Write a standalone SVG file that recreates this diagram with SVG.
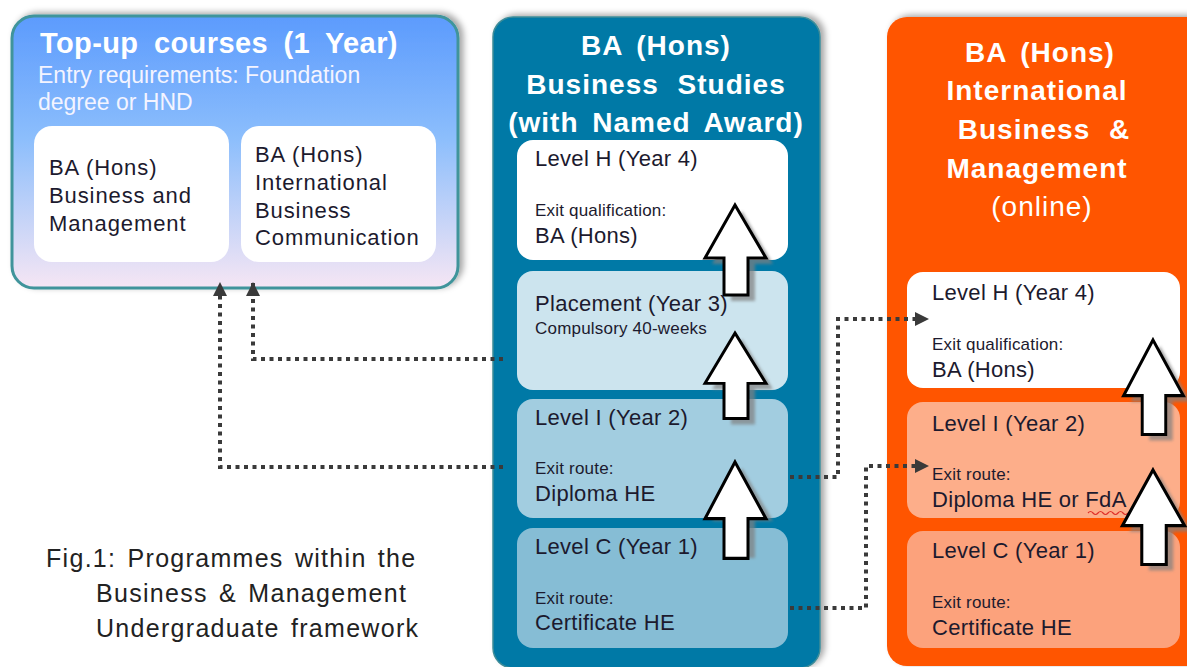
<svg xmlns="http://www.w3.org/2000/svg" width="1187" height="667" viewBox="0 0 1187 667">
  <defs>
    <linearGradient id="topupGrad" x1="0" y1="0" x2="0" y2="1">
      <stop offset="0" stop-color="#5c9bfd"/>
      <stop offset="0.45" stop-color="#8cbefc"/>
      <stop offset="1" stop-color="#f6e6f4"/>
    </linearGradient>
    <filter id="boxShadow" x="-5%" y="-5%" width="112%" height="112%">
      <feDropShadow dx="4" dy="-2" stdDeviation="3" flood-color="#000" flood-opacity="0.35"/>
    </filter>
    <filter id="arrowShadow" x="-30%" y="-30%" width="160%" height="160%">
      <feGaussianBlur stdDeviation="1.5"/>
    </filter>
    <marker id="tip" viewBox="0 0 14 14" refX="13" refY="7" markerWidth="14" markerHeight="14" markerUnits="userSpaceOnUse" orient="auto">
      <path d="M0,0 L14,7 L0,14 z" fill="#3a3a3a"/>
    </marker>
    <!-- block arrow pointing up, tip at origin -->
    <path id="upArrow" d="M0,0 L31,53 L13,53 L13,90 L-11,90 L-11,53 L-30,53 Z"/>
  </defs>
  <style>
    text { font-family: "Liberation Sans", Arial, sans-serif; }
    .title { fill: #fff; font-weight: bold; font-size: 28px; letter-spacing: 1px; word-spacing: 5px; }
    .sub { fill: #f4f4ff; font-size: 23px; }
    .body { fill: #1c1a2e; font-size: 22px; letter-spacing: 0.3px; }
    .wide { letter-spacing: 0.9px; }
    .small { fill: #1c1a2e; font-size: 17px; letter-spacing: 0.2px; }
    .cap { fill: #222; font-size: 25px; letter-spacing: 1.3px; word-spacing: 3px; }
    .link { fill: none; stroke: #3a3a3a; stroke-width: 4; stroke-dasharray: 4 4.5; marker-end: url(#tip); }
    .arrow { fill: #fff; stroke: #000; stroke-width: 3; stroke-linejoin: miter; }
    .arrowShade { fill: #808080; opacity: 0.7; filter: url(#arrowShadow); }
  </style>

  <rect width="1187" height="667" fill="#fff"/>

  <!-- Top-up courses -->
  <g id="topup">
    <rect x="12" y="16" width="446" height="272" rx="22" fill="url(#topupGrad)" stroke="#3f949b" stroke-width="3" filter="url(#boxShadow)"/>
    <text class="title" x="40" y="53" style="font-size:29px;letter-spacing:0.4px;word-spacing:7px">Top-up courses (1 Year)</text>
    <text class="sub" x="38" y="83">Entry requirements: Foundation</text>
    <text class="sub" x="38" y="110">degree or HND</text>
    <g id="topup-bm">
      <rect x="34" y="126" width="195" height="136" rx="18" fill="#fff"/>
      <text class="body wide" x="49" y="175">BA (Hons)</text>
      <text class="body wide" x="49" y="203">Business and</text>
      <text class="body wide" x="49" y="231">Management</text>
    </g>
    <g id="topup-ibc">
      <rect x="241" y="126" width="195" height="136" rx="18" fill="#fff"/>
      <text class="body wide" x="255" y="162">BA (Hons)</text>
      <text class="body wide" x="255" y="190">International</text>
      <text class="body wide" x="255" y="218">Business</text>
      <text class="body wide" x="255" y="245">Communication</text>
    </g>
  </g>

  <!-- BA (Hons) Business Studies -->
  <g id="business-studies">
    <rect x="493" y="17" width="327" height="651" rx="20" fill="#0079a6" stroke="#3e8c98" stroke-width="1.5" filter="url(#boxShadow)"/>
    <text class="title" x="656" y="55" text-anchor="middle">BA (Hons)</text>
    <text class="title" x="656" y="94" text-anchor="middle" style="word-spacing:10px">Business Studies</text>
    <text class="title" x="656" y="132" text-anchor="middle">(with Named Award)</text>
    <g id="bs-level-h">
      <rect x="517" y="140" width="271" height="120" rx="16" fill="#fff"/>
      <text class="body" x="535" y="166">Level H (Year 4)</text>
      <text class="small" x="535" y="216">Exit qualification:</text>
      <text class="body" x="535" y="243">BA (Hons)</text>
    </g>
    <g id="bs-placement">
      <rect x="517" y="271" width="271" height="119" rx="16" fill="#cce4ee"/>
      <text class="body" x="535" y="311">Placement (Year 3)</text>
      <text class="small" x="535" y="334">Compulsory 40-weeks</text>
    </g>
    <g id="bs-level-i">
      <rect x="517" y="399" width="271" height="119" rx="16" fill="#a2cde0"/>
      <text class="body" x="535" y="425">Level I (Year 2)</text>
      <text class="small" x="535" y="474">Exit route:</text>
      <text class="body" x="535" y="501">Diploma HE</text>
    </g>
    <g id="bs-level-c">
      <rect x="517" y="528" width="271" height="120" rx="16" fill="#86bdd5"/>
      <text class="body" x="535" y="554">Level C (Year 1)</text>
      <text class="small" x="535" y="604">Exit route:</text>
      <text class="body" x="535" y="630">Certificate HE</text>
    </g>
    <g id="bs-progression">
      <use href="#upArrow" class="arrowShade" transform="translate(742,211)"/>
      <use href="#upArrow" class="arrow" transform="translate(735,205)"/>
      <use href="#upArrow" class="arrowShade" transform="translate(742,339) scale(1,0.95)"/>
      <use href="#upArrow" class="arrow" transform="translate(735,333) scale(1,0.95)"/>
      <use href="#upArrow" class="arrowShade" transform="translate(742,468)"/>
      <use href="#upArrow" class="arrow" transform="translate(735,462) scale(1,1.07)"/>
    </g>
  </g>

  <!-- BA (Hons) International Business & Management (online) -->
  <g id="ibm-online">
    <rect x="887" y="17" width="320" height="649" rx="20" fill="#ff5400" filter="url(#boxShadow)"/>
    <text class="title" x="1040" y="62" text-anchor="middle">BA (Hons)</text>
    <text class="title" x="1037" y="100" text-anchor="middle">International</text>
    <text class="title" x="1044" y="139" text-anchor="middle" style="word-spacing:10px">Business &amp;</text>
    <text class="title" x="1037" y="178" text-anchor="middle">Management</text>
    <text class="title" x="1042" y="216" text-anchor="middle" style="font-weight:normal">(online)</text>
    <g id="ibm-level-h">
      <rect x="907" y="272" width="273" height="116" rx="16" fill="#fff"/>
      <text class="body" x="932" y="300">Level H (Year 4)</text>
      <text class="small" x="932" y="350">Exit qualification:</text>
      <text class="body" x="932" y="377">BA (Hons)</text>
    </g>
    <g id="ibm-level-i">
      <rect x="907" y="402" width="273" height="116" rx="16" fill="#fdae8a"/>
      <text class="body" x="932" y="431">Level I (Year 2)</text>
      <text class="small" x="932" y="480">Exit route:</text>
      <text class="body" x="932" y="507">Diploma HE or FdA</text>
      <path d="M1088,513 q2.5,-3 5,0 t5,0 t5,0 t5,0 t5,0 t5,0 t5,0 t5,0" fill="none" stroke="#e0302a" stroke-width="1.2"/>
    </g>
    <g id="ibm-level-c">
      <rect x="907" y="531" width="273" height="117" rx="16" fill="#fca27c"/>
      <text class="body" x="932" y="558">Level C (Year 1)</text>
      <text class="small" x="932" y="608">Exit route:</text>
      <text class="body" x="932" y="635">Certificate HE</text>
    </g>
    <g id="ibm-progression">
      <use href="#upArrow" class="arrowShade" transform="translate(1160,346) scale(0.98,1.05)"/>
      <use href="#upArrow" class="arrow" transform="translate(1153,340) scale(0.98,1.05)"/>
      <use href="#upArrow" class="arrowShade" transform="translate(1160,476) scale(1.02,1.05)"/>
      <use href="#upArrow" class="arrow" transform="translate(1153,470) scale(1.02,1.05)"/>
    </g>
  </g>

  <!-- exit / transfer routes -->
  <g id="connectors">
    <path class="link" d="M503,359 H253 V283"/>
    <path class="link" d="M503,467 H220 V283"/>
    <path class="link" d="M790,477 H838 V319 H928"/>
    <path class="link" d="M790,608 H866 V466 H928"/>
  </g>

  <!-- caption -->
  <g id="caption">
    <text class="cap" x="46" y="567">Fig.1: Programmes within the</text>
    <text class="cap" x="96" y="602">Business &amp; Management</text>
    <text class="cap" x="96" y="637">Undergraduate framework</text>
  </g>
</svg>
